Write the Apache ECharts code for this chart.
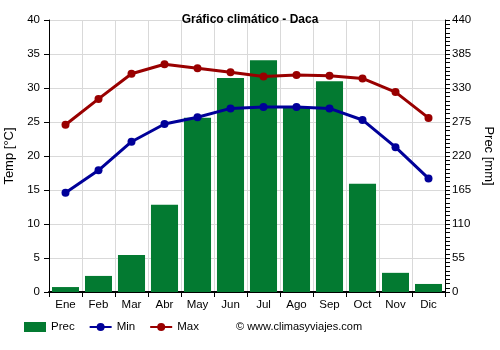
<!DOCTYPE html>
<html><head><meta charset="utf-8">
<script src="https://cdn.jsdelivr.net/npm/echarts@6/dist/echarts.min.js"></script>
<style>html,body{margin:0;padding:0;background:#fff}#c{width:500px;height:350px}</style>
</head><body><div id="c"></div>
<script>
const months = ['Ene','Feb','Mar','Abr','May','Jun','Jul','Ago','Sep','Oct','Nov','Dic'];
const prec = [8, 26, 60, 141, 282, 346, 375, 298, 341, 175, 31, 13];
const tMin = [14.6, 17.9, 22.1, 24.7, 25.7, 27.0, 27.2, 27.2, 27.0, 25.3, 21.3, 16.7];
const tMax = [24.6, 28.4, 32.1, 33.5, 32.9, 32.3, 31.7, 31.9, 31.8, 31.4, 29.4, 25.6];

const chart = echarts.init(document.getElementById('c'), null, {renderer: 'canvas'});
const font = 'Arial, "Liberation Sans", sans-serif';
chart.setOption({
  animation: false,
  title: {text: 'Gráfico climático - Daca', left: 'center', top: 9,
    textStyle: {fontFamily: font, fontSize: 12, fontWeight: 'bold', color: '#000'}},
  grid: {left: 49, right: 55, top: 20, bottom: 58, containLabel: false, outerBoundsMode: 'none'},
  legend: {
    left: 19, bottom: 12, itemGap: 14, itemWidth: 22, itemHeight: 10,
    textStyle: {fontFamily: font, fontSize: 11.5, color: '#000'},
    data: [{name: 'Prec', icon: 'rect'}, {name: 'Min'}, {name: 'Max'}]
  },
  graphic: [{type: 'text', left: 236, top: 321,
    style: {text: '© www.climasyviajes.com', font: '11px ' + font, fill: '#000'}}],
  xAxis: {
    type: 'category', data: months, boundaryGap: true,
    axisLine: {lineStyle: {color: '#000', width: 2}},
    axisTick: {show: true, alignWithLabel: false, length: 5, lineStyle: {color: '#000'}},
    axisLabel: {fontFamily: font, fontSize: 11.5, color: '#000', margin: 7},
    splitLine: {show: true, lineStyle: {color: '#d9d9d9'}}
  },
  yAxis: [{
    type: 'value', min: 0, max: 40, interval: 5, position: 'left',
    name: 'Temp [°C]', nameLocation: 'middle', nameGap: 28, nameRotate: 90,
    nameTextStyle: {fontFamily: font, fontSize: 13, color: '#000'},
    axisLine: {show: true, lineStyle: {color: '#000'}},
    axisTick: {show: true, length: 5, lineStyle: {color: '#000'}},
    axisLabel: {fontFamily: font, fontSize: 11.5, color: '#000', margin: 9},
    splitLine: {show: true, lineStyle: {color: '#d9d9d9'}}
  }, {
    type: 'value', min: 0, max: 440, interval: 55, position: 'right',
    name: 'Prec [mm]', nameLocation: 'middle', nameGap: 35, nameRotate: -90,
    nameTextStyle: {fontFamily: font, fontSize: 13, color: '#000'},
    axisLine: {show: true, lineStyle: {color: '#000'}},
    axisTick: {show: true, length: 5, lineStyle: {color: '#000'}},
    minorTick: {show: true, splitNumber: 8, length: 5, lineStyle: {color: '#000'}},
    axisLabel: {fontFamily: font, fontSize: 11.5, color: '#000', margin: 7},
    splitLine: {show: false}
  }],
  series: [{
    name: 'Prec', type: 'bar', yAxisIndex: 1, data: prec,
    barCategoryGap: '18%', itemStyle: {color: '#037a31'}
  }, {
    name: 'Min', type: 'line', yAxisIndex: 0, data: tMin,
    symbol: 'circle', symbolSize: 8,
    lineStyle: {color: '#000099', width: 3}, itemStyle: {color: '#000099'}
  }, {
    name: 'Max', type: 'line', yAxisIndex: 0, data: tMax,
    symbol: 'circle', symbolSize: 8,
    lineStyle: {color: '#990000', width: 3}, itemStyle: {color: '#990000'}
  }]
});
</script></body></html>
